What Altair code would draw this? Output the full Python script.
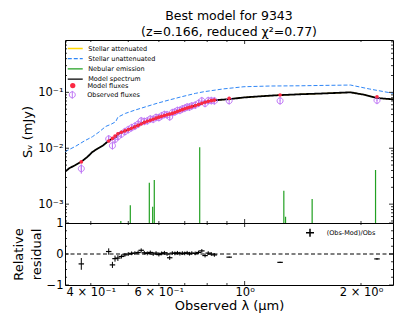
import altair as alt
import pandas as pd

FONT = "DejaVu Sans"

# ---------------- data ----------------
spec_wl = [0.343, 0.352, 0.365, 0.379, 0.392, 0.404, 0.418, 0.430, 0.442, 0.452, 0.460,
           0.466, 0.472, 0.485, 0.498, 0.525, 0.555, 0.580, 0.601, 0.625, 0.650, 0.677,
           0.704, 0.730, 0.755, 0.785, 0.833, 0.911, 0.996, 1.10, 1.226, 1.40, 1.60,
           1.879, 2.05, 2.201, 2.42]
spec_fl = [0.0038, 0.0044, 0.0050, 0.0058, 0.0070, 0.0086, 0.0100, 0.0112, 0.0131, 0.0145,
           0.0152, 0.0160, 0.0185, 0.0198, 0.0212, 0.0250, 0.0298, 0.0330, 0.0362, 0.0390,
           0.0421, 0.0468, 0.0515, 0.0555, 0.0595, 0.0660, 0.0720, 0.0755, 0.0810, 0.0850,
           0.0890, 0.0925, 0.0955, 0.1000, 0.0900, 0.0790, 0.0750]

unatt_wl = [0.343, 0.365, 0.385, 0.404, 0.420, 0.437, 0.452, 0.464, 0.470, 0.492, 0.520,
            0.555, 0.595, 0.637, 0.690, 0.747, 0.785, 0.880, 0.996, 1.167, 1.40, 1.60,
            1.879, 2.10, 2.42]
unatt_fl = [0.0087, 0.0108, 0.0135, 0.0161, 0.0195, 0.0245, 0.0270, 0.0298, 0.0360, 0.0421,
            0.0480, 0.0552, 0.0640, 0.0728, 0.0840, 0.0960, 0.1026, 0.1150, 0.1260, 0.1297,
            0.1310, 0.1330, 0.1350, 0.1150, 0.0960]

neb_wl = [0.4783, 0.5061, 0.5668, 0.5782, 0.5838, 0.7652, 1.263, 1.276, 1.495, 2.181]
neb_fl = [5.0e-4, 9.6e-4, 2.42e-3, 8.97e-4, 2.70e-3, 1.04e-2, 1.74e-3, 5.95e-4, 1.23e-3, 4.07e-3]

filt_wl = [0.378, 0.445, 0.455, 0.462, 0.470, 0.480, 0.490, 0.500, 0.510, 0.520, 0.530,
           0.540, 0.550, 0.560, 0.570, 0.580, 0.590, 0.600, 0.610, 0.620, 0.630, 0.640,
           0.650, 0.660, 0.670, 0.680, 0.690, 0.700, 0.710, 0.720, 0.730, 0.745, 0.760,
           0.775, 0.790, 0.805, 0.820, 0.835, 0.912, 1.235, 2.200]
mod_fl = [0.0057, 0.0135, 0.0150, 0.0165, 0.0182, 0.0193, 0.0204, 0.0215, 0.0228, 0.0241,
          0.0256, 0.0272, 0.0290, 0.0303, 0.0316, 0.0330, 0.0345, 0.0360, 0.0372, 0.0385,
          0.0397, 0.0408, 0.0420, 0.0437, 0.0455, 0.0472, 0.0490, 0.0510, 0.0525, 0.0540,
          0.0555, 0.0578, 0.0605, 0.0635, 0.0665, 0.0690, 0.0710, 0.0725, 0.0780, 0.0895,
          0.0834]
obs_fl = [0.00432, 0.01467, 0.0111, 0.01435, 0.0161, 0.01787, 0.0198, 0.0215, 0.0233, 0.0248,
          0.0269, 0.0309, 0.0302, 0.0309, 0.0333, 0.0330, 0.0356, 0.0353, 0.0380, 0.0401,
          0.0397, 0.0364, 0.0433, 0.0446, 0.0474, 0.0477, 0.0505, 0.0520, 0.0547, 0.0545,
          0.0572, 0.0590, 0.0637, 0.0706, 0.0633, 0.0711, 0.0710, 0.0704, 0.0708, 0.0705,
          0.0720]
obs_err = [0.00082, 0.0015, 0.0011, 0.0014, 0.0015, 0.0012, 0.0012, 0.0013, 0.0014, 0.0015,
           0.0016, 0.0019, 0.0018, 0.0019, 0.0020, 0.0020, 0.0021, 0.0021, 0.0023, 0.0024,
           0.0024, 0.0025, 0.0026, 0.0027, 0.0028, 0.0029, 0.0030, 0.0031, 0.0033, 0.0033,
           0.0034, 0.0035, 0.0038, 0.0042, 0.0038, 0.0043, 0.0043, 0.0042, 0.0014, 0.0014,
           0.0021]

x_major = [1.0]
x_minor = [0.4, 0.5, 0.6, 0.7, 0.8, 0.9, 2.0]
x_labels = [0.4, 0.6, 1.0, 2.0]
y_major = [1e-3, 1e-2, 1e-1]
y_minor = [5e-4, 6e-4, 7e-4, 8e-4, 9e-4, 2e-3, 3e-3, 4e-3, 5e-3, 6e-3, 7e-3, 8e-3, 9e-3,
           2e-2, 3e-2, 4e-2, 5e-2, 6e-2, 7e-2, 8e-2, 9e-2, 2e-1, 3e-1, 4e-1, 5e-1, 6e-1,
           7e-1, 8e-1]
r_major = [-1.0, 0.0, 1.0]
r_minor = [-0.75, -0.5, -0.25, 0.25, 0.5, 0.75]

SERIES = ["Stellar attenuated", "Stellar unattenuated", "Nebular emission", "Model spectrum"]
SER_COL = ["#FFD700", "#2f86f6", "#22a022", "#000000"]
SER_DASH = [[1, 0], [4, 2], [1, 0], [1, 0]]
RED = "#fb2943"
PURPLE = "#bf77f6"
CIRC_BAR = ("M-1,0A1,1,0,0,1,0,-1A1,1,0,0,1,1,0A1,1,0,0,1,0,1A1,1,0,0,1,-1,0Z"
            "M0,-1.3L0,1.3")

# ---------------- sizes / scales ----------------
W, H1, H2 = 328, 183, 62
xs = alt.Scale(type="log", domain=[0.343, 2.42], nice=False)
ys = alt.Scale(type="log", domain=[4.6e-4, 0.863], nice=False)
rs = alt.Scale(domain=[-1, 1], nice=False)

yaxis_top = alt.Axis(values=y_major, title="Sᵥ (mJy)", titleFontSize=13, titleFontWeight="normal",
                     labelFontSize=11.5, labelPadding=2, titlePadding=3,
                     labelExpr="datum.value == 0.1 ? '10⁻¹' : datum.value == 0.01 ? '10⁻²' : '10⁻³'")
xaxis_bot = alt.Axis(values=x_labels, title="Observed λ (μm)", titleFontSize=13,
                     titleFontWeight="normal", labelFontSize=11.5, labelPadding=1, titlePadding=2,
                     labelExpr="datum.value == 0.4 ? '4 × 10⁻¹' : datum.value == 0.6 ? '6 × 10⁻¹' : datum.value == 1 ? '10⁰' : '2 × 10⁰'")
yaxis_bot = alt.Axis(values=r_major, title=["Relative", "residual"], titleFontSize=13,
                     titleFontWeight="normal", titleLineHeight=18, labelFontSize=11.5,
                     labelPadding=2, titlePadding=3,
                     labelExpr="datum.value == -1 ? '−1' : datum.value == 0 ? '0' : '1'")


def XT(field="wl"):
    return alt.X(f"{field}:Q", scale=xs, axis=None)


def YT(field):
    return alt.Y(f"{field}:Q", scale=ys, axis=yaxis_top)


def XB(field="wl"):
    return alt.X(f"{field}:Q", scale=xs, axis=xaxis_bot)


def YB(field):
    return alt.Y(f"{field}:Q", scale=rs, axis=yaxis_bot)


line_leg = alt.Legend(title=None, orient="none", legendX=5.75, legendY=4, padding=0,
                      symbolType="M-2,0H2", symbolSize=56, symbolStrokeWidth=1.3,
                      labelFont=FONT, labelFontSize=6.5,
                      labelOffset=8.5, rowPadding=2.2, labelColor="black")
color_enc = alt.Color("series:N", scale=alt.Scale(domain=SERIES, range=SER_COL), legend=line_leg)
dash_enc = alt.StrokeDash("series:N", scale=alt.Scale(domain=SERIES, range=SER_DASH), legend=line_leg)

spec_df = pd.DataFrame({"wl": spec_wl, "fl": spec_fl, "series": "Model spectrum"})
att_df = pd.DataFrame({"wl": spec_wl, "fl": spec_fl, "series": "Stellar attenuated"})
unatt_df = pd.DataFrame({"wl": unatt_wl, "fl": unatt_fl, "series": "Stellar unattenuated"})
neb_df = pd.DataFrame({"wl": neb_wl, "fl": neb_fl, "series": "Nebular emission"})

phot = pd.DataFrame({"wl": filt_wl, "mod": mod_fl, "obs": obs_fl, "err": obs_err})
phot["lo"] = phot["obs"] - phot["err"]
phot["hi"] = phot["obs"] + phot["err"]
phot["res"] = (phot["obs"] - phot["mod"]) / phot["obs"]
phot["rerr"] = phot["err"] / phot["obs"]
phot["rlo"] = phot["res"] - phot["rerr"]
phot["rhi"] = phot["res"] + phot["rerr"]
phot["rl"] = "(Obs-Mod)/Obs"
phot["mlab"] = "Model fluxes"
phot["olab"] = "Observed fluxes"


def line_layer(df, width):
    return alt.Chart(df).mark_line(clip=True, strokeWidth=width).encode(
        x=XT(), y=YT("fl"), color=color_enc, strokeDash=dash_enc)


def ticks(values, channel, length, height, width, enc):
    df = pd.DataFrame({"v": values})
    out = []
    if channel == "x":
        for a, b in [(0, length), (height, height - length)]:
            out.append(alt.Chart(df).mark_rule(color="black", strokeWidth=0.8).encode(
                x=enc("v"), y=alt.value(a), y2=alt.value(b)))
    else:
        for a, b in [(0, length), (width, width - length)]:
            out.append(alt.Chart(df).mark_rule(color="black", strokeWidth=0.8).encode(
                y=enc("v"), x=alt.value(a), x2=alt.value(b)))
    return out


neb = alt.Chart(neb_df).mark_rule(clip=True, strokeWidth=1.2).encode(
    x=XT(), y=YT("fl"), y2=alt.value(H1), color=color_enc, strokeDash=dash_enc)

mod_leg = alt.Legend(title=None, orient="none", legendX=4.5, legendY=42.3, padding=0,
                     symbolType="circle", symbolSize=28, labelFont=FONT, labelFontSize=6.5,
                     labelOffset=11.5, labelColor="black", symbolStrokeWidth=0)
obs_leg = alt.Legend(title=None, orient="none", legendX=3.8, legendY=51.3, padding=0,
                     symbolType=CIRC_BAR, symbolSize=36, labelFont=FONT, labelFontSize=6.5,
                     labelOffset=11.4, labelColor="black", symbolStrokeWidth=1,
                     symbolFillColor="transparent")

obs_err_layer = alt.Chart(phot).mark_rule(color=PURPLE, strokeWidth=1, clip=True).encode(
    x=XT(), y=YT("lo"), y2="hi:Q")
obs_layer = alt.Chart(phot).mark_point(shape=CIRC_BAR, size=36, strokeWidth=1, filled=False,
                                       opacity=1, clip=True).encode(
    x=XT(), y=YT("obs"),
    stroke=alt.Stroke("olab:N", scale=alt.Scale(domain=["Observed fluxes"], range=[PURPLE]),
                      legend=obs_leg))
mod_layer = alt.Chart(phot).mark_point(shape="circle", size=13, filled=True, opacity=1,
                                       clip=True).encode(
    x=XT(), y=YT("mod"),
    fill=alt.Fill("mlab:N", scale=alt.Scale(domain=["Model fluxes"], range=[RED]),
                  legend=mod_leg))

top = alt.layer(
    line_layer(unatt_df, 1.0), line_layer(att_df, 1.0), neb, line_layer(spec_df, 1.8),
    obs_err_layer, obs_layer, mod_layer,
    *ticks(x_major, "x", 4, H1, W, XT), *ticks(x_minor, "x", 2, H1, W, XT),
    *ticks(y_major, "y", 4, H1, W, YT), *ticks(y_minor, "y", 2, H1, W, YT),
).properties(width=W, height=H1)

# ---------------- bottom panel ----------------
zero = pd.DataFrame({"z": [0.0]})
zero_line = alt.Chart(zero).mark_rule(color="black", strokeDash=[4, 2.5], strokeWidth=1.2).encode(
    y=YB("z"))
res_err = alt.Chart(phot).mark_rule(color="black", strokeWidth=1, clip=True).encode(
    x=XB(), y=YB("rlo"), y2="rhi:Q")
res_leg = alt.Legend(title=None, orient="none", legendX=240, legendY=4.7, padding=0,
                     symbolType="M-1,0H1M0,-1V1", symbolSize=64, symbolStrokeWidth=1.5,
                     labelFont=FONT, labelFontSize=6.5, labelOffset=11.7, labelColor="black")
res_pts = alt.Chart(phot).mark_point(shape="M-1,0H1", size=30, strokeWidth=1.2, filled=False,
                                     opacity=1, clip=True).encode(
    x=XB(), y=YB("res"),
    color=alt.Color("rl:N", scale=alt.Scale(range=["black"]), legend=res_leg))

bottom = alt.layer(
    zero_line, res_err, res_pts,
    *ticks(x_major, "x", 4, H2, W, XB), *ticks(x_minor, "x", 2, H2, W, XB),
    *ticks(r_major, "y", 4, H2, W, YB), *ticks(r_minor, "y", 2, H2, W, YB),
).properties(width=W, height=H2)

chart = alt.vconcat(
    top, bottom, spacing=0, bounds="flush",
    title=alt.Title(["Best model for 9343", "(z=0.166, reduced χ²=0.77)"], font=FONT, fontSize=12.5,
                    fontWeight="normal", anchor="middle", frame="group", offset=1, lineHeight=15.5,
                    color="black"),
).resolve_scale(color="independent", fill="independent", stroke="independent",
                strokeDash="independent"
).configure_view(stroke="black", strokeWidth=1
).configure_axis(labelFont=FONT, titleFont=FONT, labelColor="black", titleColor="black",
                 grid=False, domain=False, ticks=False
).properties(padding={"left": 3, "top": 2, "right": 5, "bottom": 5})

chart.save("out.html", embed_options={"renderer": "svg", "actions": False})
